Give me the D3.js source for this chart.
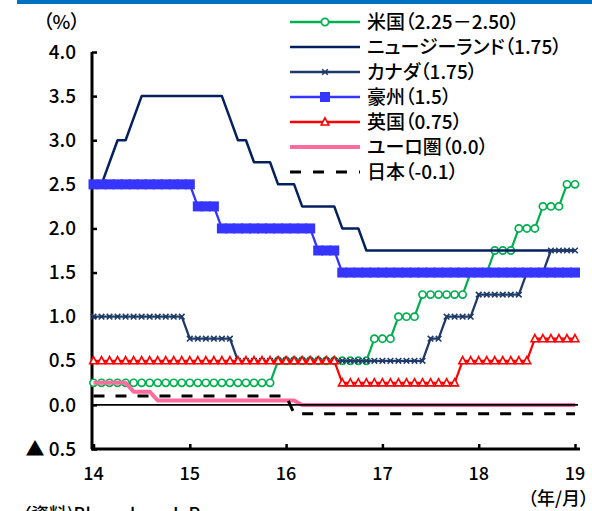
<!DOCTYPE html>
<html><head><meta charset="utf-8">
<script src="https://cdn.jsdelivr.net/npm/d3@7"></script>
<style>
body{margin:0;background:#fff;}
svg{display:block;font-family:"Noto Sans CJK JP","Noto Sans",sans-serif;font-feature-settings:"palt";font-weight:500;}
</style></head><body><svg id="chart" width="592" height="511"></svg>
<script>
// Policy rates, month-end values, Jan 2014 .. Jan 2019 (61 months)
const monthIndex = d3.range(61);
const yearTickIdx = [0, 12, 24, 36, 48, 60];
const yearLabels = ["14", "15", "16", "17", "18", "19"];
const yTickValues = [4.0, 3.5, 3.0, 2.5, 2.0, 1.5, 1.0, 0.5, 0.0, -0.5];
const yTickLabels = ["4.0", "3.5", "3.0", "2.5", "2.0", "1.5", "1.0", "0.5", "0.0", "▲ 0.5"];

const usRate = [
  0.25,0.25,0.25,0.25,0.25,0.25,0.25,0.25,0.25,0.25,0.25,0.25,
  0.25,0.25,0.25,0.25,0.25,0.25,0.25,0.25,0.25,0.25,0.25,0.5,
  0.5,0.5,0.5,0.5,0.5,0.5,0.5,0.5,0.5,0.5,0.5,0.75,
  0.75,0.75,1.0,1.0,1.0,1.25,1.25,1.25,1.25,1.25,1.25,1.5,
  1.5,1.5,1.75,1.75,1.75,2.0,2.0,2.0,2.25,2.25,2.25,2.5,
  2.5];
const nzRate = [
  2.5,2.5,2.75,3.0,3.0,3.25,3.5,3.5,3.5,3.5,3.5,3.5,
  3.5,3.5,3.5,3.5,3.5,3.25,3.0,3.0,2.75,2.75,2.75,2.5,
  2.5,2.5,2.25,2.25,2.25,2.25,2.25,2.0,2.0,2.0,1.75,1.75,
  1.75,1.75,1.75,1.75,1.75,1.75,1.75,1.75,1.75,1.75,1.75,1.75,
  1.75,1.75,1.75,1.75,1.75,1.75,1.75,1.75,1.75,1.75,1.75,1.75,
  1.75];
const caRate = [
  1.0,1.0,1.0,1.0,1.0,1.0,1.0,1.0,1.0,1.0,1.0,1.0,
  0.75,0.75,0.75,0.75,0.75,0.75,0.5,0.5,0.5,0.5,0.5,0.5,
  0.5,0.5,0.5,0.5,0.5,0.5,0.5,0.5,0.5,0.5,0.5,0.5,
  0.5,0.5,0.5,0.5,0.5,0.5,0.75,0.75,1.0,1.0,1.0,1.0,
  1.25,1.25,1.25,1.25,1.25,1.25,1.5,1.5,1.5,1.75,1.75,1.75,
  1.75];
const auRate = [
  2.5,2.5,2.5,2.5,2.5,2.5,2.5,2.5,2.5,2.5,2.5,2.5,
  2.5,2.25,2.25,2.25,2.0,2.0,2.0,2.0,2.0,2.0,2.0,2.0,
  2.0,2.0,2.0,2.0,1.75,1.75,1.75,1.5,1.5,1.5,1.5,1.5,
  1.5,1.5,1.5,1.5,1.5,1.5,1.5,1.5,1.5,1.5,1.5,1.5,
  1.5,1.5,1.5,1.5,1.5,1.5,1.5,1.5,1.5,1.5,1.5,1.5,
  1.5];
const ukRate = [
  0.5,0.5,0.5,0.5,0.5,0.5,0.5,0.5,0.5,0.5,0.5,0.5,
  0.5,0.5,0.5,0.5,0.5,0.5,0.5,0.5,0.5,0.5,0.5,0.5,
  0.5,0.5,0.5,0.5,0.5,0.5,0.5,0.25,0.25,0.25,0.25,0.25,
  0.25,0.25,0.25,0.25,0.25,0.25,0.25,0.25,0.25,0.25,0.5,0.5,
  0.5,0.5,0.5,0.5,0.5,0.5,0.5,0.75,0.75,0.75,0.75,0.75,
  0.75];
const euRate = [
  0.25,0.25,0.25,0.25,0.25,0.15,0.15,0.15,0.05,0.05,0.05,0.05,
  0.05,0.05,0.05,0.05,0.05,0.05,0.05,0.05,0.05,0.05,0.05,0.05,
  0.05,0.05,0.0,0.0,0.0,0.0,0.0,0.0,0.0,0.0,0.0,0.0,
  0.0,0.0,0.0,0.0,0.0,0.0,0.0,0.0,0.0,0.0,0.0,0.0,
  0.0,0.0,0.0,0.0,0.0,0.0,0.0,0.0,0.0,0.0,0.0,0.0,
  0.0];
const jpRate = [
  0.1,0.1,0.1,0.1,0.1,0.1,0.1,0.1,0.1,0.1,0.1,0.1,
  0.1,0.1,0.1,0.1,0.1,0.1,0.1,0.1,0.1,0.1,0.1,0.1,
  0.1,-0.1,-0.1,-0.1,-0.1,-0.1,-0.1,-0.1,-0.1,-0.1,-0.1,-0.1,
  -0.1,-0.1,-0.1,-0.1,-0.1,-0.1,-0.1,-0.1,-0.1,-0.1,-0.1,-0.1,
  -0.1,-0.1,-0.1,-0.1,-0.1,-0.1,-0.1,-0.1,-0.1,-0.1,-0.1,-0.1,
  -0.1];

const seriesNames = ["米国（2.25－2.50）", "ニュージーランド（1.75）", "カナダ（1.75）",
  "豪州（1.5）", "英国（0.75）", "ユーロ圏（0.0）", "日本（-0.1）"];

const series = [
  {name: seriesNames[0], values: usRate, color: "#00B050", width: 2.2, marker: "circle"},
  {name: seriesNames[1], values: nzRate, color: "#06205F", width: 2.5, marker: null},
  {name: seriesNames[2], values: caRate, color: "#1F3A68", width: 2.3, marker: "x"},
  {name: seriesNames[3], values: auRate, color: "#3535FF", width: 2.3, marker: "square"},
  {name: seriesNames[4], values: ukRate, color: "#FF0000", width: 2.2, marker: "triangle"},
  {name: seriesNames[5], values: euRate, color: "#FF6B9D", width: 4, marker: null},
  {name: seriesNames[6], values: jpRate, color: "#000000", width: 3, marker: null, dash: "11 11"}
];

const svg = d3.select("#chart");

// header band
svg.append("rect").attr("x", 17).attr("y", 0).attr("width", 575).attr("height", 4).attr("fill", "#0070C0");

const x = d3.scaleLinear().domain([0, 60]).range([93.5, 575]);
const y = d3.scaleLinear().domain([-0.5, 4.0]).range([449, 52]);

const fontSize = 18;

// y axis
const yAxis = d3.axisRight(y).tickValues(yTickValues).tickSize(5).tickFormat(() => "");
const gy = svg.append("g").attr("transform", "translate(92,0)").call(yAxis);
gy.select(".domain").attr("stroke", "#000").attr("stroke-width", 3).attr("d", `M0,${y(4.0)}V${y(-0.5)}`);
gy.selectAll(".tick line").attr("stroke", "#000").attr("stroke-width", 2.5);
svg.append("g").selectAll("text").data(yTickValues).join("text")
  .attr("x", 76).attr("y", d => y(d)).attr("dy", "0.35em")
  .attr("text-anchor", "end").attr("font-size", 19).attr("fill", "#000")
  .text((d, i) => yTickLabels[i]);

// x axis
const xAxis = d3.axisTop(x).tickValues(yearTickIdx).tickSize(5).tickFormat(() => "");
const gx = svg.append("g").attr("transform", `translate(0,${y(-0.5)})`).call(xAxis);
gx.select(".domain").attr("stroke", "#000").attr("stroke-width", 3).attr("d", `M91,0H580`);
gx.selectAll(".tick line").attr("stroke", "#000").attr("stroke-width", 2.5);
svg.append("g").selectAll("text").data(yearTickIdx).join("text")
  .attr("x", d => x(d)).attr("y", 480)
  .attr("text-anchor", "middle").attr("font-size", fontSize).attr("fill", "#000")
  .text((d, i) => yearLabels[i]);

// marker drawing
function drawMarker(g, type, color) {
  if (type === "circle") {
    g.append("circle").attr("r", 3.6).attr("fill", "#fff").attr("stroke", color).attr("stroke-width", 1.7);
  } else if (type === "square") {
    g.append("rect").attr("x", -5).attr("y", -5).attr("width", 10).attr("height", 10).attr("fill", color);
  } else if (type === "triangle") {
    g.append("path").attr("d", "M0,-4.2L3.8,3L-3.8,3Z").attr("fill", "#fff").attr("stroke", color).attr("stroke-width", 1.6);
  } else if (type === "x") {
    g.append("path").attr("d", d3.symbol(d3.symbolTimes, 22)()).attr("fill", "none").attr("stroke", color).attr("stroke-width", 1.6);
  }
}

const plot = svg.append("g");
const line = d3.line().x((d, i) => x(monthIndex[i])).y(d => y(d));

series.forEach(s => {
  const g = plot.append("g");
  g.append("path").datum(s.values).attr("d", line)
    .attr("fill", "none").attr("stroke", s.color).attr("stroke-width", s.width)
    .attr("stroke-linejoin", "round")
    .attr("stroke-dasharray", s.dash || null);
  if (s.marker) {
    g.selectAll("g.m").data(s.values).join("g").attr("class", "m")
      .attr("transform", (d, i) => `translate(${x(monthIndex[i])},${y(d)})`)
      .each(function() { drawMarker(d3.select(this), s.marker, s.color); });
  }
  if (s === series[5]) {
    // zero line
    plot.append("line").attr("x1", 92).attr("x2", 578).attr("y1", y(0)).attr("y2", y(0))
      .attr("stroke", "#000").attr("stroke-width", 1.8);
  }
});

// legend
const legend = svg.append("g");
series.forEach((s, i) => {
  const ly = 22 + i * 25;
  const lg = legend.append("g").attr("transform", `translate(0,${ly})`);
  lg.append("line").attr("x1", 290).attr("x2", 360).attr("y1", 0).attr("y2", 0)
    .attr("stroke", s.color).attr("stroke-width", s === series[5] ? 4 : (s.dash ? 3 : 2.5))
    .attr("stroke-dasharray", s.dash ? "11 12" : null);
  if (s.marker) {
    const mg = lg.append("g").attr("transform", "translate(325,0)");
    drawMarker(mg, s.marker, s.color);
  }
  lg.append("text").attr("x", 367).attr("y", 0).attr("dy", "0.36em")
    .attr("font-size", 19).attr("fill", "#000").text(s.name);
});

// unit labels and source
svg.append("text").attr("x", 43).attr("y", 22).attr("dy", "0.36em").attr("font-size", 19).text("（%）");
svg.append("text").attr("x", 589).attr("y", 505).attr("text-anchor", "end").attr("font-size", fontSize).text("（年/月）");
svg.append("text").attr("x", 22).attr("y", 521).attr("font-size", fontSize).text("（資料)Bloomberg L.P.");
</script></body></html>
